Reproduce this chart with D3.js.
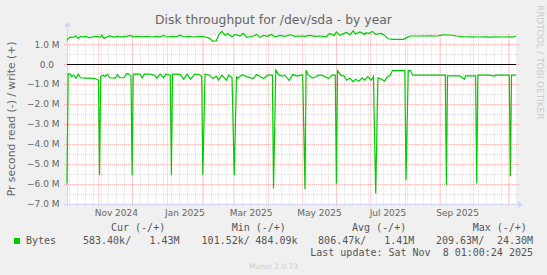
<!DOCTYPE html>
<html>
<head>
<meta charset="utf-8">
<title>Disk throughput for /dev/sda - by year</title>
<style>
body { margin: 0; background: #f0f0f0; }
svg { display: block; font-family: 'DejaVu Sans', sans-serif; }
.minor line { stroke: #8f8f8f; stroke-opacity: .3; stroke-dasharray: 1,1; }
.major line { stroke: #ff2020; stroke-opacity: .34; stroke-dasharray: 1,1; }
.ylab text, .xlab text { fill: #666; font-size: 9px; }
.legend text { fill: #555; font-family: 'DejaVu Sans Mono', monospace; font-size: 10px; white-space: pre; }
</style>
</head>
<body>
<svg id="chart" width="547" height="275"></svg>
<script src="https://d3js.org/d3.v7.min.js"></script>
<script>

// time window: 400 days ending at last update
var startDate = new Date(Date.UTC(2024, 9, 4, 1, 0, 0));
var endDate = new Date(Date.UTC(2025, 10, 8, 1, 0, 0));

// write (+), MB/s, sampled by day offset from start
var writeDays = [0,1,3,5,8,10,12,14,17,20,23,27,30,31,33,36,38,42,45,49,53,56,59,62,67,71,76,79,83,86,89,94,97,101,104,108,113,118,123,127,130,133,135,138,141,143,147,150,154,157,160,166,169,172,175,179,182,185,190,194,199,203,208,212,216,221,225,231,234,238,240,243,247,249,252,255,257,261,265,266,269,272,275,280,283,286,290,297,300,303,306,314,323,330,335,341,347,353,359,366,372,377,382,388,393,396,400];
var writeVals = [1.20,1.28,1.37,1.35,1.42,1.30,1.40,1.38,1.40,1.33,1.38,1.40,1.35,1.47,1.30,1.38,1.42,1.36,1.40,1.38,1.40,1.45,1.38,1.40,1.38,1.40,1.37,1.40,1.38,1.45,1.37,1.40,1.38,1.46,1.37,1.40,1.37,1.40,1.38,1.30,1.15,1.18,1.45,1.65,1.45,1.55,1.38,1.50,1.42,1.55,1.35,1.42,1.50,1.35,1.45,1.40,1.50,1.38,1.45,1.40,1.48,1.40,1.42,1.40,1.45,1.40,1.42,1.38,1.55,1.45,1.62,1.45,1.55,1.60,1.48,1.68,1.52,1.62,1.50,1.58,1.55,1.65,1.50,1.55,1.45,1.28,1.25,1.25,1.25,1.35,1.42,1.42,1.43,1.42,1.48,1.47,1.42,1.39,1.38,1.37,1.38,1.36,1.38,1.37,1.38,1.36,1.40];

// read (-), MB/s
var readDays = [0,1,3,4,6,8,10,12,16,20,25,28,29,30,32,34,36,38,43,45,47,51,53,55,57,58,59,62,65,67,69,74,78,80,83,86,88,92,93,94,97,101,104,107,110,114,118,120,121,123,127,130,133,135,138,142,144,147,149,151,152,156,160,166,169,172,175,179,183,184,186,189,192,194,198,201,205,208,210,212,213,215,219,224,227,233,236,239,240,241,244,247,249,252,255,257,260,263,265,268,271,273,275,277,280,283,285,288,290,301,302,304,306,308,314,323,337,338,339,350,354,355,364,365,366,377,381,382,394,395,396,400];
var readVals = [-6.0,-0.47,-0.50,-0.62,-0.55,-0.70,-0.50,-0.68,-0.70,-0.70,-0.72,-0.80,-5.58,-0.62,-0.55,-0.62,-0.50,-0.68,-0.70,-0.52,-0.68,-0.68,-0.47,-0.48,-0.60,-5.58,-0.50,-0.48,-0.50,-0.68,-0.50,-0.50,-0.55,-0.70,-0.50,-0.68,-0.50,-0.55,-5.58,-0.50,-0.50,-0.52,-0.75,-0.50,-0.75,-0.50,-0.52,-0.62,-5.58,-0.50,-0.55,-0.72,-0.60,-0.80,-0.55,-0.80,-0.55,-0.68,-5.58,-0.60,-0.72,-0.52,-0.62,-0.72,-0.52,-0.62,-0.72,-0.55,-0.55,-6.25,-0.30,-0.55,-0.60,-0.55,-0.82,-0.52,-0.60,-0.55,-0.55,-6.27,-0.30,-0.55,-0.70,-0.55,-0.55,-0.72,-0.55,-0.55,-6.0,-0.33,-0.55,-0.60,-0.80,-0.70,-0.88,-0.75,-0.85,-0.68,-0.80,-0.62,-0.80,-0.62,-6.5,-0.68,-0.75,-0.85,-0.65,-0.55,-0.32,-0.32,-5.83,-0.32,-0.32,-0.55,-0.55,-0.55,-0.55,-6.08,-0.58,-0.58,-0.75,-0.58,-0.58,-6.0,-0.55,-0.55,-0.60,-0.55,-0.55,-5.63,-0.55,-0.55];

var yMajor = [1, 0, -1, -2, -3, -4, -5, -6, -7];
var yMinor = [1.5, 0.5, -0.5, -1.5, -2.5, -3.5, -4.5, -5.5, -6.5];

var legendHeads = ["Cur (-/+)", "Min (-/+)", "Avg (-/+)", "Max (-/+)"];
var legendReads = ["583.40k/", "101.52k/", "806.47k/", "209.63M/"];
var legendWrites = ["1.43M", "484.09k", "1.41M", "24.30M"];

var svg = d3.select("#chart");

var pL = 67, pR = 516, pT = 34.4, pB = 203.5;

var x = d3.scaleUtc().domain([startDate, endDate]).range([pL, pR]);
var y = d3.scaleLinear().domain([-7, 1.5]).range([pB, pT]);

function dayToDate(d) { return new Date(startDate.getTime() + d * 864e5); }
function snap(v) { return Math.round(v) + 0.5; }

svg.append("rect")
    .attr("x", pL).attr("y", pT)
    .attr("width", pR - pL).attr("height", pB - pT)
    .attr("fill", "#fff");

// grid
var minorG = svg.append("g").attr("class", "minor");
minorG.selectAll("line.v")
    .data(d3.utcSunday.range(startDate, endDate))
    .enter().append("line")
    .attr("x1", function(d) { return snap(x(d)); })
    .attr("x2", function(d) { return snap(x(d)); })
    .attr("y1", pT).attr("y2", pB + 2);
minorG.selectAll("line.h")
    .data(yMinor)
    .enter().append("line")
    .attr("x1", pL - 2).attr("x2", pR + 2)
    .attr("y1", function(d) { return snap(y(d)); })
    .attr("y2", function(d) { return snap(y(d)); });

var majorG = svg.append("g").attr("class", "major");
majorG.selectAll("line.v")
    .data(d3.utcMonth.range(startDate, endDate))
    .enter().append("line")
    .attr("x1", function(d) { return snap(x(d)); })
    .attr("x2", function(d) { return snap(x(d)); })
    .attr("y1", pT).attr("y2", pB + 3);
majorG.selectAll("line.h")
    .data(yMajor)
    .enter().append("line")
    .attr("x1", pL - 3).attr("x2", pR + 3)
    .attr("y1", function(d) { return snap(y(d)); })
    .attr("y2", function(d) { return snap(y(d)); });

// axes
var axisColor = "#cfd6f8";
svg.append("line")
    .attr("x1", pL - 3).attr("x2", pR + 3)
    .attr("y1", snap(pB)).attr("y2", snap(pB))
    .attr("stroke", axisColor);
svg.append("line")
    .attr("x1", pL + 0.5).attr("x2", pL + 0.5)
    .attr("y1", pB + 3).attr("y2", pT - 8)
    .attr("stroke", axisColor);
svg.append("path")
    .attr("d", "M" + (pR + 7) + "," + snap(pB) + "l-5,-3.5v7z")
    .attr("fill", axisColor);
svg.append("path")
    .attr("d", "M" + (pL + 0.5) + "," + (pT - 13) + "l-3.5,5h7z")
    .attr("fill", axisColor);

// y labels
svg.append("g").attr("class", "ylab")
    .selectAll("text")
    .data(yMajor)
    .enter().append("text")
    .attr("x", function(d) { return d === 0 ? 54 : 59.5; })
    .attr("y", function(d) { return y(d) + 3.3; })
    .attr("text-anchor", "end")
    .text(function(d) { return d === 0 ? "0.0" : d3.format(".1f")(d) + " M"; });

// x labels every second month, centred half a month after its start
var labelMonths = d3.utcMonth.every(2).range(startDate, endDate)
    .filter(function(d) { return x(d3.utcDay.offset(d, 16)) < pR; });

svg.append("g").attr("class", "xlab")
    .selectAll("text")
    .data(labelMonths)
    .enter().append("text")
    .attr("x", function(d) { return x(d3.utcDay.offset(d, 16)); })
    .attr("y", 216)
    .attr("text-anchor", "middle")
    .text(d3.utcFormat("%b %Y"));

// series
var line = d3.line()
    .x(function(d) { return x(dayToDate(d[0])); })
    .y(function(d) { return y(d[1]); });

svg.append("path")
    .datum(d3.zip(writeDays, writeVals))
    .attr("d", line)
    .attr("fill", "none")
    .attr("stroke", "#00cc00")
    .attr("stroke-width", 1.2);

svg.append("path")
    .datum(d3.zip(readDays, readVals))
    .attr("d", line)
    .attr("fill", "none")
    .attr("stroke", "#00cc00")
    .attr("stroke-width", 1.2);

// zero rule
svg.append("line")
    .attr("x1", pL).attr("x2", pR)
    .attr("y1", snap(y(0))).attr("y2", snap(y(0)))
    .attr("stroke", "#000");

// title, vertical label, watermark
svg.append("text")
    .attr("x", 273.5).attr("y", 24)
    .attr("text-anchor", "middle")
    .attr("fill", "#666")
    .attr("font-size", "12.4px")
    .text("Disk throughput for /dev/sda - by year");

svg.append("text")
    .attr("transform", "translate(14.5," + ((pT + pB) / 2) + ") rotate(-90)")
    .attr("text-anchor", "middle")
    .attr("fill", "#666")
    .attr("font-size", "10.8px")
    .text("Pr second read (-) / write (+)");

svg.append("text")
    .attr("transform", "translate(537,5) rotate(90)")
    .attr("fill", "#cccccc")
    .attr("font-size", "8.9px")
    .text("RRDTOOL / TOBI OETIKER");

// legend
var legend = svg.append("g").attr("class", "legend");
var headX = [111, 231.7, 352, 472.7];
var readX = [83, 201.6, 318.1, 436];
var writeX = [179.6, 297.5, 414.4, 533];

legend.selectAll("text.head")
    .data(legendHeads)
    .enter().append("text")
    .attr("x", function(d, i) { return headX[i]; })
    .attr("y", 231.3)
    .text(function(d) { return d; });

legend.append("rect")
    .attr("x", 14).attr("y", 238)
    .attr("width", 6).attr("height", 6)
    .attr("fill", "#00cc00");
legend.append("text")
    .attr("x", 26).attr("y", 244.3)
    .text("Bytes");

legend.selectAll("text.rd")
    .data(legendReads)
    .enter().append("text")
    .attr("x", function(d, i) { return readX[i]; })
    .attr("y", 244.3)
    .text(function(d) { return d; });

legend.selectAll("text.wr")
    .data(legendWrites)
    .enter().append("text")
    .attr("x", function(d, i) { return writeX[i]; })
    .attr("y", 244.3)
    .attr("text-anchor", "end")
    .text(function(d) { return d; });

legend.append("text")
    .attr("x", 533).attr("y", 256.2)
    .attr("text-anchor", "end")
    .text("Last update: Sat Nov  8 01:00:24 2025");

svg.append("text")
    .attr("x", 273.5).attr("y", 268.5)
    .attr("text-anchor", "middle")
    .attr("fill", "#cccccc")
    .attr("font-size", "7.5px")
    .text("Munin 2.0.73");

</script>
</body>
</html>
